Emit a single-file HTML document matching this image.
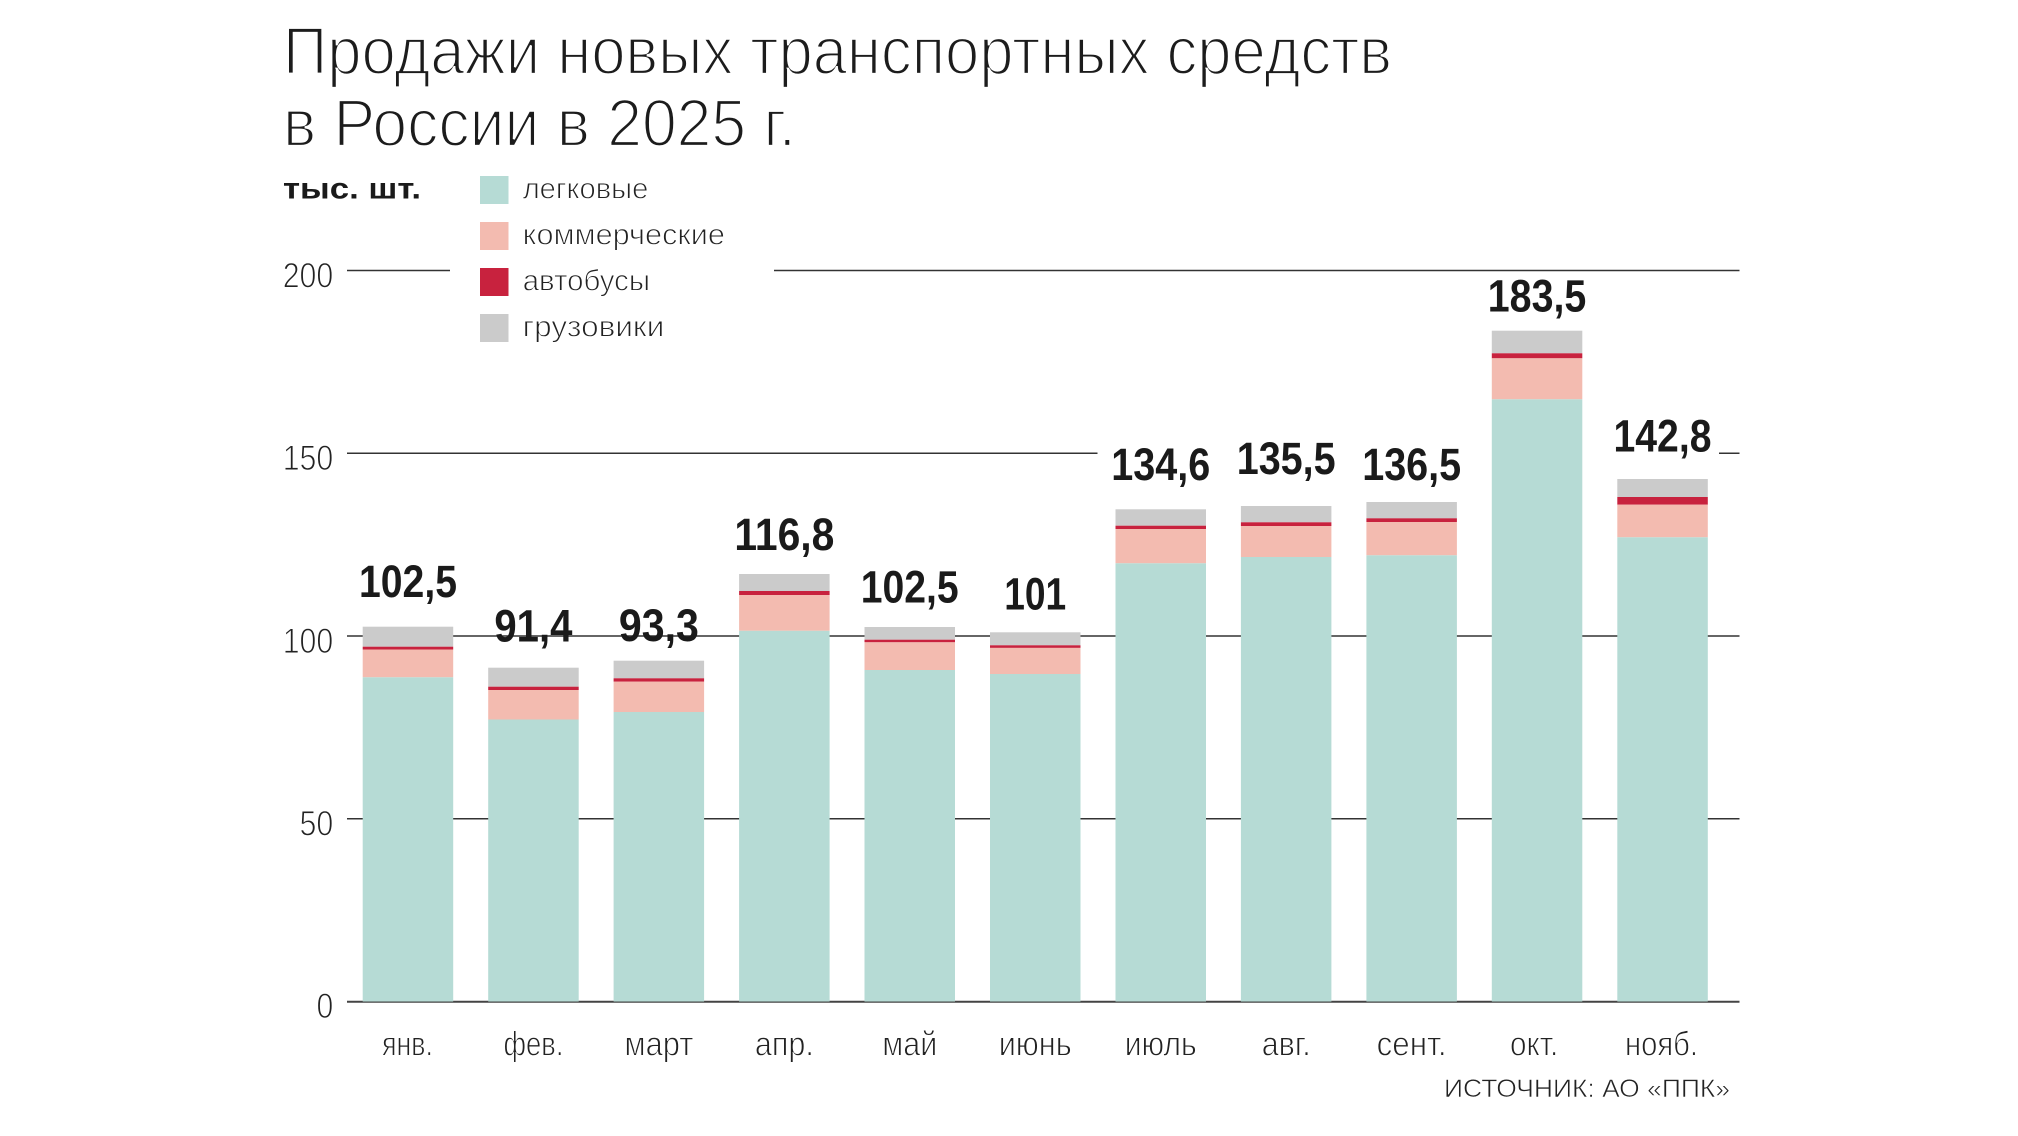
<!DOCTYPE html>
<html>
<head>
<meta charset="utf-8">
<style>
  html, body { margin: 0; padding: 0; background: #ffffff; }
  svg { display: block; }
  text { font-family: "Liberation Sans", "DejaVu Sans", sans-serif; }
</style>
</head>
<body>
<svg width="2018" height="1136" viewBox="0 0 2018 1136" xmlns="http://www.w3.org/2000/svg">
  <rect x="0" y="0" width="2018" height="1136" fill="#ffffff"/>

  <!-- Title -->
  <g stroke="#ffffff" stroke-width="2.2">
  <text x="283" y="74" font-size="67" fill="#1c1c1c" textLength="1109" lengthAdjust="spacingAndGlyphs">Продажи новых транспортных средств</text>
  <text x="283" y="146" font-size="67" fill="#1c1c1c" textLength="513" lengthAdjust="spacingAndGlyphs">в России в 2025 г.</text>
  </g>

  <!-- Units -->
  <text x="283" y="198.3" font-size="30" font-weight="bold" fill="#1a1a1a" textLength="138" lengthAdjust="spacingAndGlyphs">тыс. шт.</text>

  <!-- Legend -->
  <rect x="480" y="176" width="28.5" height="28" fill="#b6dbd5"/>
  <rect x="480" y="222" width="28.5" height="28" fill="#f3bbb0"/>
  <rect x="480" y="268" width="28.5" height="28" fill="#c8223e"/>
  <rect x="480" y="314" width="28.5" height="28" fill="#cbcbcb"/>
  <g stroke="#ffffff" stroke-width="0.9">
  <text x="522.7" y="198.3" font-size="30" fill="#222" textLength="125.6" lengthAdjust="spacingAndGlyphs">легковые</text>
  <text x="522.7" y="244.3" font-size="30" fill="#222" textLength="202.3" lengthAdjust="spacingAndGlyphs">коммерческие</text>
  <text x="522.7" y="290.3" font-size="30" fill="#222" textLength="127.3" lengthAdjust="spacingAndGlyphs">автобусы</text>
  <text x="522.7" y="336.3" font-size="30" fill="#222" textLength="141.6" lengthAdjust="spacingAndGlyphs">грузовики</text>
  </g>

  <!-- Gridlines -->
  <g stroke="#333333" stroke-width="1.6">
    <line x1="347" y1="270.5" x2="450" y2="270.5"/>
    <line x1="774" y1="270.5" x2="1739.5" y2="270.5"/>
    <line x1="347" y1="453.25" x2="1097.5" y2="453.25"/>
    <line x1="1719" y1="453.25" x2="1739.5" y2="453.25"/>
    <line x1="347" y1="636" x2="1739.5" y2="636"/>
    <line x1="347" y1="818.75" x2="1739.5" y2="818.75"/>
    <line x1="347" y1="1001.8" x2="1739.5" y2="1001.8" stroke="#444" stroke-width="2"/>
  </g>

  <!-- Y labels -->
  <g font-size="35" fill="#222" stroke="#ffffff" stroke-width="1">
    <text x="282.7" y="287.3" textLength="50.6" lengthAdjust="spacingAndGlyphs">200</text>
    <text x="282.7" y="470" textLength="50.6" lengthAdjust="spacingAndGlyphs">150</text>
    <text x="282.7" y="652.8" textLength="50.6" lengthAdjust="spacingAndGlyphs">100</text>
    <text x="299.5" y="835.5" textLength="33.8" lengthAdjust="spacingAndGlyphs">50</text>
    <text x="316.5" y="1018" textLength="16.8" lengthAdjust="spacingAndGlyphs">0</text>
  </g>

  <!-- Bars: teal, pink, red, gray -->
  <g>
    <!-- Jan -->
    <rect x="362.7" y="626.7" width="90.5" height="20" fill="#cbcbcb"/>
    <rect x="362.7" y="646.7" width="90.5" height="2.8" fill="#c8223e"/>
    <rect x="362.7" y="649.5" width="90.5" height="27.8" fill="#f3bbb0"/>
    <rect x="362.7" y="677.3" width="90.5" height="324.2" fill="#b6dbd5"/>
    <!-- Feb -->
    <rect x="488.2" y="667.7" width="90.5" height="19" fill="#cbcbcb"/>
    <rect x="488.2" y="686.7" width="90.5" height="3.3" fill="#c8223e"/>
    <rect x="488.2" y="690" width="90.5" height="29.5" fill="#f3bbb0"/>
    <rect x="488.2" y="719.5" width="90.5" height="282" fill="#b6dbd5"/>
    <!-- Mar -->
    <rect x="613.6" y="660.7" width="90.5" height="17.6" fill="#cbcbcb"/>
    <rect x="613.6" y="678.3" width="90.5" height="3.4" fill="#c8223e"/>
    <rect x="613.6" y="681.7" width="90.5" height="30.3" fill="#f3bbb0"/>
    <rect x="613.6" y="712" width="90.5" height="289.5" fill="#b6dbd5"/>
    <!-- Apr -->
    <rect x="739.1" y="574" width="90.5" height="17" fill="#cbcbcb"/>
    <rect x="739.1" y="591" width="90.5" height="4" fill="#c8223e"/>
    <rect x="739.1" y="595" width="90.5" height="35.8" fill="#f3bbb0"/>
    <rect x="739.1" y="630.8" width="90.5" height="370.7" fill="#b6dbd5"/>
    <!-- May -->
    <rect x="864.5" y="627" width="90.5" height="12.7" fill="#cbcbcb"/>
    <rect x="864.5" y="639.7" width="90.5" height="2.6" fill="#c8223e"/>
    <rect x="864.5" y="642.3" width="90.5" height="27.7" fill="#f3bbb0"/>
    <rect x="864.5" y="670" width="90.5" height="331.5" fill="#b6dbd5"/>
    <!-- Jun -->
    <rect x="990" y="632.3" width="90.5" height="13" fill="#cbcbcb"/>
    <rect x="990" y="645.3" width="90.5" height="2.6" fill="#c8223e"/>
    <rect x="990" y="647.9" width="90.5" height="26.1" fill="#f3bbb0"/>
    <rect x="990" y="674" width="90.5" height="327.5" fill="#b6dbd5"/>
    <!-- Jul -->
    <rect x="1115.5" y="509.3" width="90.5" height="16.4" fill="#cbcbcb"/>
    <rect x="1115.5" y="525.7" width="90.5" height="3.3" fill="#c8223e"/>
    <rect x="1115.5" y="529" width="90.5" height="34.3" fill="#f3bbb0"/>
    <rect x="1115.5" y="563.3" width="90.5" height="438.2" fill="#b6dbd5"/>
    <!-- Aug -->
    <rect x="1240.9" y="506" width="90.5" height="16.3" fill="#cbcbcb"/>
    <rect x="1240.9" y="522.3" width="90.5" height="3.7" fill="#c8223e"/>
    <rect x="1240.9" y="526" width="90.5" height="31" fill="#f3bbb0"/>
    <rect x="1240.9" y="557" width="90.5" height="444.5" fill="#b6dbd5"/>
    <!-- Sep -->
    <rect x="1366.4" y="502" width="90.5" height="16.3" fill="#cbcbcb"/>
    <rect x="1366.4" y="518.3" width="90.5" height="3.7" fill="#c8223e"/>
    <rect x="1366.4" y="522" width="90.5" height="33.3" fill="#f3bbb0"/>
    <rect x="1366.4" y="555.3" width="90.5" height="446.2" fill="#b6dbd5"/>
    <!-- Oct -->
    <rect x="1491.8" y="330.7" width="90.5" height="22.6" fill="#cbcbcb"/>
    <rect x="1491.8" y="353.3" width="90.5" height="5" fill="#c8223e"/>
    <rect x="1491.8" y="358.3" width="90.5" height="41" fill="#f3bbb0"/>
    <rect x="1491.8" y="399.3" width="90.5" height="602.2" fill="#b6dbd5"/>
    <!-- Nov -->
    <rect x="1617.3" y="479" width="90.5" height="18" fill="#cbcbcb"/>
    <rect x="1617.3" y="497" width="90.5" height="7.7" fill="#c8223e"/>
    <rect x="1617.3" y="504.7" width="90.5" height="32.6" fill="#f3bbb0"/>
    <rect x="1617.3" y="537.3" width="90.5" height="464.2" fill="#b6dbd5"/>
  </g>

  <!-- Value labels -->
  <g font-size="45" font-weight="bold" fill="#1a1a1a">
    <text x="359" y="597" textLength="98" lengthAdjust="spacingAndGlyphs">102,5</text>
    <text x="494.4" y="641.7" textLength="78" lengthAdjust="spacingAndGlyphs">91,4</text>
    <text x="618.9" y="641" textLength="80" lengthAdjust="spacingAndGlyphs">93,3</text>
    <text x="734.4" y="550" textLength="100" lengthAdjust="spacingAndGlyphs">116,8</text>
    <text x="860.7" y="602.7" textLength="98" lengthAdjust="spacingAndGlyphs">102,5</text>
    <text x="1004.2" y="609.3" textLength="62" lengthAdjust="spacingAndGlyphs">101</text>
    <text x="1111.3" y="480" textLength="99" lengthAdjust="spacingAndGlyphs">134,6</text>
    <text x="1236.7" y="474" textLength="99" lengthAdjust="spacingAndGlyphs">135,5</text>
    <text x="1362.2" y="480" textLength="99" lengthAdjust="spacingAndGlyphs">136,5</text>
    <text x="1487.8" y="311.7" textLength="98.5" lengthAdjust="spacingAndGlyphs">183,5</text>
    <text x="1613.5" y="451.7" textLength="98" lengthAdjust="spacingAndGlyphs">142,8</text>
  </g>

  <!-- Month labels -->
  <g font-size="34" fill="#222" stroke="#ffffff" stroke-width="0.9">
    <text x="382" y="1055.5" textLength="51" lengthAdjust="spacingAndGlyphs">янв.</text>
    <text x="503.5" y="1055.5" textLength="60" lengthAdjust="spacingAndGlyphs">фев.</text>
    <text x="624.4" y="1055.5" textLength="69" lengthAdjust="spacingAndGlyphs">март</text>
    <text x="754.9" y="1055.5" textLength="59" lengthAdjust="spacingAndGlyphs">апр.</text>
    <text x="882.3" y="1055.5" textLength="55" lengthAdjust="spacingAndGlyphs">май</text>
    <text x="998.7" y="1055.5" textLength="73" lengthAdjust="spacingAndGlyphs">июнь</text>
    <text x="1124.7" y="1055.5" textLength="72" lengthAdjust="spacingAndGlyphs">июль</text>
    <text x="1261.7" y="1055.5" textLength="49" lengthAdjust="spacingAndGlyphs">авг.</text>
    <text x="1376.6" y="1055.5" textLength="70" lengthAdjust="spacingAndGlyphs">сент.</text>
    <text x="1510" y="1055.5" textLength="48.3" lengthAdjust="spacingAndGlyphs">окт.</text>
    <text x="1625" y="1055.5" textLength="73" lengthAdjust="spacingAndGlyphs">нояб.</text>
  </g>

  <!-- Source -->
  <text x="1444" y="1097" font-size="25" fill="#222" stroke="#ffffff" stroke-width="0.6" textLength="286" lengthAdjust="spacingAndGlyphs">ИСТОЧНИК: АО «ППК»</text>
</svg>
</body>
</html>
